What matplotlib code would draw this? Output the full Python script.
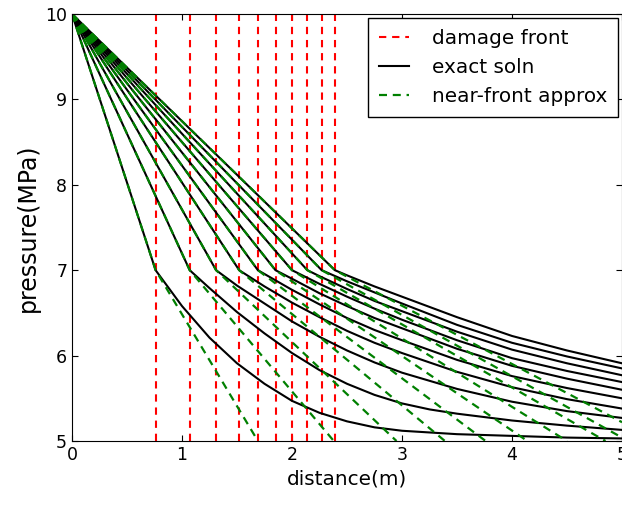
import numpy as np
import matplotlib
matplotlib.use("Agg")
from matplotlib import pyplot as plt

# damage front positions (m)
front_x = [0.76, 1.07, 1.31, 1.52, 1.69, 1.85, 2.00, 2.14, 2.27, 2.39]
p_inj = 10.0      # pressure at x=0
p_front = 7.0     # pressure at the front

# exact soln beyond each front
exact_x = [
    [1.0, 1.25, 1.5, 1.75, 2.0, 2.25, 2.5, 2.75, 3.0, 3.5, 4.0, 4.5, 5.0],
    [1.25, 1.5, 1.75, 2.0, 2.25, 2.5, 2.75, 3.0, 3.25, 3.5, 4.0, 4.5, 5.0],
    [1.5, 1.75, 2.0, 2.25, 2.5, 2.75, 3.0, 3.5, 4.0, 4.5, 5.0],
    [1.75, 2.0, 2.25, 2.5, 2.75, 3.0, 3.5, 4.0, 4.5, 5.0],
    [2.0, 2.25, 2.5, 2.75, 3.0, 3.5, 4.0, 4.5, 5.0],
    [2.0, 2.25, 2.5, 2.75, 3.0, 3.5, 4.0, 4.5, 5.0],
    [2.25, 2.5, 2.75, 3.0, 3.5, 4.0, 4.5, 5.0],
    [2.25, 2.5, 2.75, 3.0, 3.5, 4.0, 4.5, 5.0],
    [2.5, 2.75, 3.0, 3.5, 4.0, 4.5, 5.0],
    [2.5, 2.75, 3.0, 3.5, 4.0, 4.5, 5.0],
]
exact_p = [
    [6.58, 6.21, 5.91, 5.67, 5.47, 5.33, 5.23, 5.16, 5.12, 5.08, 5.06, 5.04, 5.03],
    [6.79, 6.51, 6.26, 6.03, 5.83, 5.67, 5.54, 5.44, 5.37, 5.32, 5.24, 5.18, 5.13],
    [6.82, 6.61, 6.40, 6.22, 6.06, 5.92, 5.80, 5.61, 5.46, 5.35, 5.27],
    [6.81, 6.62, 6.45, 6.29, 6.15, 6.03, 5.81, 5.63, 5.49, 5.38],
    [6.77, 6.60, 6.44, 6.30, 6.18, 5.95, 5.76, 5.62, 5.50],
    [6.90, 6.73, 6.58, 6.44, 6.32, 6.08, 5.88, 5.73, 5.60],
    [6.84, 6.69, 6.55, 6.42, 6.18, 5.97, 5.82, 5.69],
    [6.93, 6.78, 6.64, 6.52, 6.28, 6.07, 5.91, 5.77],
    [6.87, 6.74, 6.61, 6.36, 6.15, 5.99, 5.85],
    [6.94, 6.81, 6.69, 6.45, 6.23, 6.06, 5.91],
]

# near-front approx: straight line from the front down to this point
approx_end_x = [1.69, 2.38, 2.95, 3.39, 3.76, 4.14, 4.50, 4.85, 5.00, 5.00]
approx_end_p = [5.00, 5.00, 5.00, 5.00, 5.00, 5.00, 5.00, 5.00, 5.04, 5.22]

fig = plt.figure(figsize=(6.22, 5.05), dpi=100)
ax = fig.add_axes([72/622, 1-441/505, 550/622, 427/505])

for i, xf in enumerate(front_x):
    ax.plot([xf, xf], [5, 10], color="r", ls="--", dashes=(3.5, 2.8), lw=1.5,
            label="damage front" if i == 0 else None)

for i, xf in enumerate(front_x):
    xs = [0.0, xf] + exact_x[i]
    ps = [p_inj, p_front] + exact_p[i]
    ax.plot(xs, ps, "k-", lw=1.5, label="exact soln" if i == 0 else None)

for i, xf in enumerate(front_x):
    xs = [0.0, xf, approx_end_x[i]]
    ps = [p_inj, p_front, approx_end_p[i]]
    ax.plot(xs, ps, color="g", ls="--", dashes=(3.6, 2.6), lw=1.6,
            label="near-front approx" if i == 0 else None)

ax.set_xlim(0, 5)
ax.set_ylim(5, 10)
ax.set_xticks([0, 1, 2, 3, 4, 5])
ax.set_yticks([5, 6, 7, 8, 9, 10])
ax.tick_params(direction="in", top=True, right=True, labelsize=12.5, length=4)
ax.set_xlabel("distance(m)", fontsize=14.4)
ax.set_ylabel("pressure(MPa)", fontsize=17)
ax.legend(loc="upper right", fontsize=14.4, handlelength=1.5, handletextpad=1.15,
          borderpad=0.55, fancybox=False, edgecolor="k", framealpha=1.0,
          borderaxespad=0.2)

fig.savefig("out.png", dpi=100)
